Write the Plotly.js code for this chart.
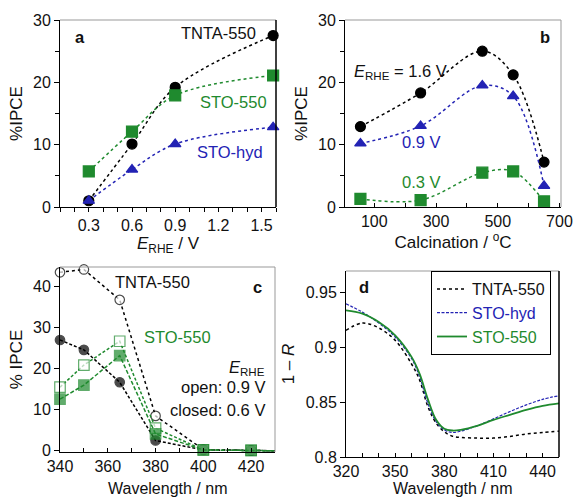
<!DOCTYPE html>
<html>
<head>
<meta charset="utf-8">
<script src="https://cdn.plot.ly/plotly-3.0.1.min.js"></script>
<style>html,body{margin:0;padding:0;background:#fff;}#chart{width:576px;height:497px;}</style>
</head>
<body>
<div id="chart"></div>
<script>
// ---- Panel a: IPCE vs potential ----
const aX = [0.3, 0.6, 0.9, 1.58];
const aTNTA = [1.0, 10.1, 19.2, 27.5];
const aSTO550 = [5.7, 12.1, 17.9, 21.1];
const aSTOhyd = [1.0, 6.0, 10.1, 12.8];

// ---- Panel b: IPCE vs calcination temperature ----
const bX = [55, 250, 450, 550, 650];
const b16 = [12.9, 18.3, 25.0, 21.2, 7.2];
const b09 = [10.2, 13.0, 19.5, 17.8, 3.4];
const b03 = [1.3, 1.1, 5.5, 5.7, 0.9];

// ---- Panel c: IPCE vs wavelength ----
const cX = [340, 350, 365, 380, 400, 420, 430];
const cTNTAopen = [43.5, 44.2, 36.8, 8.5, 0.3, 0.1, 0.0];
const cTNTAclosed = [27.0, 24.6, 16.7, 2.5, 0.2, 0.1, 0.0];
const cSTOopen = [15.5, 20.9, 26.7, 5.5, 0.2, 0.1, 0.0];
const cSTOclosed = [12.6, 16.0, 23.2, 4.1, 0.2, 0.1, 0.0];

// ---- Panel d: 1-R spectra ----
const dX = [320, 330, 340, 350, 360, 365, 370, 375, 380, 385, 390, 400, 410, 420, 430, 440, 450];
const dTNTA = [0.9158, 0.9224, 0.918, 0.9067, 0.885, 0.870, 0.846, 0.831, 0.823, 0.819, 0.8179, 0.8173, 0.8173, 0.8188, 0.821, 0.8224, 0.8236];
const dSTOhyd = [0.940, 0.9324, 0.9224, 0.9097, 0.890, 0.873, 0.849, 0.8324, 0.8248, 0.8224, 0.8236, 0.8285, 0.8348, 0.8415, 0.8476, 0.8527, 0.856];
const dSTO550 = [0.934, 0.931, 0.9233, 0.9112, 0.8915, 0.8758, 0.8527, 0.834, 0.8258, 0.8242, 0.8248, 0.8285, 0.834, 0.8385, 0.843, 0.8467, 0.849];

const BLACK = '#000000';
const GREEN = '#1f8a2e';
const BLUE = '#2323b4';
const FONT = 'Liberation Sans, Arial, Helvetica, sans-serif';

function sc(x, y, xa, ya, color, sym, size, dash, shape, fill) {
  return {
    x: x, y: y, xaxis: xa, yaxis: ya, type: 'scatter', mode: 'lines+markers',
    showlegend: false, cliponaxis: false,
    line: {color: color, width: 1.5, dash: dash, shape: shape, smoothing: 1},
    marker: {color: fill || color, symbol: sym, size: size, line: {color: color, width: 1.2}}
  };
}

const cMarkSize = cX.map((v, i) => i === cX.length - 1 ? 0 : 9.5);

const traces = [
  sc(aX, aTNTA, 'x', 'y', BLACK, 'circle', 10, 'dot', 'spline'),
  sc(aX, aSTO550, 'x', 'y', GREEN, 'square', 11, 'dot', 'spline'),
  sc(aX, aSTOhyd, 'x', 'y', BLUE, 'triangle-up', 10, 'dot', 'spline'),

  sc(bX, b16, 'x2', 'y2', BLACK, 'circle', 10, 'dot', 'spline'),
  sc(bX, b09, 'x2', 'y2', BLUE, 'triangle-up', 10, 'dot', 'spline'),
  sc(bX, b03, 'x2', 'y2', GREEN, 'square', 11, 'dot', 'spline'),

  sc(cX, cTNTAopen, 'x3', 'y3', BLACK, 'circle', cMarkSize, 'dot', 'linear', '#ffffff'),
  sc(cX, cTNTAclosed, 'x3', 'y3', BLACK, 'circle', cMarkSize, '3px,2px', 'linear'),
  sc(cX, cSTOopen, 'x3', 'y3', GREEN, 'square', cMarkSize.map(s => s ? 10.5 : 0), '3px,2px', 'linear', '#ffffff'),
  sc(cX, cSTOclosed, 'x3', 'y3', GREEN, 'square', cMarkSize.map(s => s ? 10.5 : 0), '4px,2px', 'linear'),

  {x: dX, y: dTNTA, xaxis: 'x4', yaxis: 'y4', type: 'scatter', mode: 'lines', name: 'TNTA-550',
   line: {color: BLACK, width: 1.5, dash: 'dot', shape: 'spline'}},
  {x: dX, y: dSTOhyd, xaxis: 'x4', yaxis: 'y4', type: 'scatter', mode: 'lines',
   name: "<span style='color:" + BLUE + "'>STO-hyd</span>",
   line: {color: BLUE, width: 1.2, dash: '3px,1.5px', shape: 'spline'}},
  {x: dX, y: dSTO550, xaxis: 'x4', yaxis: 'y4', type: 'scatter', mode: 'lines',
   name: "<span style='color:" + GREEN + "'>STO-550</span>",
   line: {color: GREEN, width: 1.8, shape: 'spline'}}
];

const W = 576, H = 497;
const ML = 30, MR = 4, MT = 4, MB = 26;
const PW = W - ML - MR, PH = H - MT - MB;
function px(x) { return (x - ML) / PW; }
function py(y) { return 1 - (y - MT) / PH; }
function dx(l, r) { return [px(l), px(r)]; }
function dy(t, b) { return [py(b), py(t)]; }

const tickFont = {family: FONT, size: 16, color: '#111'};
const titleFont = {family: FONT, size: 17, color: '#111'};

function xax(dom, anchor, range, dtick, tick0, ticks, minorDtick, minorTicks, title) {
  const a = {
    domain: dom, anchor: anchor, range: range, dtick: dtick, tick0: tick0,
    ticks: ticks, ticklen: 4, tickcolor: '#000', tickwidth: 1,
    showline: true, linecolor: '#000', linewidth: 1, showgrid: false, zeroline: false,
    tickfont: tickFont, title: {text: title, font: titleFont, standoff: 2}, automargin: false
  };
  if (minorDtick) a.minor = {dtick: minorDtick, ticks: minorTicks, ticklen: 4, tickcolor: '#000', showgrid: false};
  return a;
}
function yax(dom, anchor, range, dtick, minorDtick, title) {
  const a = {
    domain: dom, anchor: anchor, range: range, dtick: dtick,
    ticks: 'outside', ticklen: 5, tickcolor: '#000', tickwidth: 1,
    showline: true, linecolor: '#000', linewidth: 1, showgrid: false, zeroline: false,
    tickfont: tickFont, title: {text: title, font: titleFont, standoff: 6}, automargin: false
  };
  if (minorDtick) a.minor = {dtick: minorDtick, ticks: 'outside', ticklen: 4, tickcolor: '#000', showgrid: false};
  return a;
}

const layout = {
  width: W, height: H,
  margin: {l: ML, r: MR, t: MT, b: MB},
  paper_bgcolor: '#fff', plot_bgcolor: '#fff',
  font: {family: FONT, size: 16, color: '#111'},
  xaxis: xax(dx(60, 276), 'y', [0.1, 1.6], 0.3, 0.3, 'outside', 0.1, 'outside', '<i>E</i><sub>RHE</sub> / V'),
  yaxis: yax(dy(20, 207), 'x', [0, 30], 10, 5, '%IPCE'),
  xaxis2: xax(dx(345, 561), 'y2', [5, 705], 200, 100, 'inside', 100, 'inside', 'Calcination / <sup>o</sup>C'),
  yaxis2: yax(dy(20, 207), 'x2', [0, 30], 10, 5, '%IPCE'),
  xaxis3: xax(dx(60, 275), 'y3', [340, 430], 20, 340, 'inside', 10, 'inside', ''),
  yaxis3: yax(dy(267, 452), 'x3', [-0.3, 44.8], 10, null, '% IPCE'),
  xaxis4: xax(dx(346, 559), 'y4', [320, 450], 30, 320, 'inside', 10, 'inside', ''),
  yaxis4: yax(dy(271, 457), 'x4', [0.8, 0.97], 0.05, null, '1 – <i>R</i>'),
  showlegend: true,
  legend: {
    x: px(431), y: py(271), xanchor: 'left', yanchor: 'top',
    bgcolor: '#fff', bordercolor: '#000', borderwidth: 1,
    font: {family: FONT, size: 16, color: '#111'},
    tracegroupgap: 0, itemwidth: 30
  },
  shapes: [],
  annotations: []
};

// box outlines (top/right)
const boxes = [['x', 'y', '#999', BLACK], ['x2', 'y2', '#999', '#999'], ['x3', 'y3', '#999', '#999'], ['x4', 'y4', '#999', BLACK]];
boxes.forEach(b => {
  layout.shapes.push({type: 'line', xref: b[0] + ' domain', yref: b[1] + ' domain', x0: 0, x1: 1, y0: 1, y1: 1, line: {color: b[2], width: 1}});
  layout.shapes.push({type: 'line', xref: b[0] + ' domain', yref: b[1] + ' domain', x0: 1, x1: 1, y0: 0, y1: 1, line: {color: b[3], width: b[3] === BLACK ? 1.5 : 1}});
});

function ann(x, y, text, color, xanchor, opts) {
  const o = Object.assign({
    xref: 'paper', yref: 'paper', x: px(x), y: py(y), text: text, showarrow: false,
    xanchor: xanchor || 'center', yanchor: 'middle',
    font: {family: FONT, size: 16.5, color: color}
  }, opts || {});
  layout.annotations.push(o);
}
const bold = {font: {family: FONT, size: 16.5, color: '#111', weight: 'bold'}};
ann(80, 37, '<b>a</b>', '#111', 'center', bold);
ann(545, 37, '<b>b</b>', '#111', 'center', bold);
ann(257, 287, '<b>c</b>', '#111', 'center', bold);
ann(364, 287, '<b>d</b>', '#111', 'center', bold);

ann(218, 33, 'TNTA-550', '#111');
ann(233, 102, 'STO-550', GREEN);
ann(230, 152, 'STO-hyd', BLUE);

ann(352, 72, '<i>E</i><sub>RHE</sub> = 1.6 V', '#111', 'left');
ann(421, 142, '0.9 V', BLUE);
ann(421, 182, '0.3 V', GREEN);

ann(152, 282, 'TNTA-550', '#111');
ann(177, 337, 'STO-550', GREEN);
ann(267, 368, '<i>E</i><sub>RHE</sub>', '#111', 'right');
ann(267, 387, 'open: 0.9 V', '#111', 'right');
ann(267, 410, 'closed: 0.6 V', '#111', 'right');

// bottom x-axis titles of panels c and d
const xt = {font: {family: FONT, size: 16, color: '#111'}, borderpad: 0};
ann(167, 488.5, 'Wavelength / nm', '#111', 'center', xt);
ann(452, 488.5, 'Wavelength / nm', '#111', 'center', xt);

Plotly.newPlot('chart', traces, layout, {staticPlot: true, displayModeBar: false});
</script>
</body>
</html>
